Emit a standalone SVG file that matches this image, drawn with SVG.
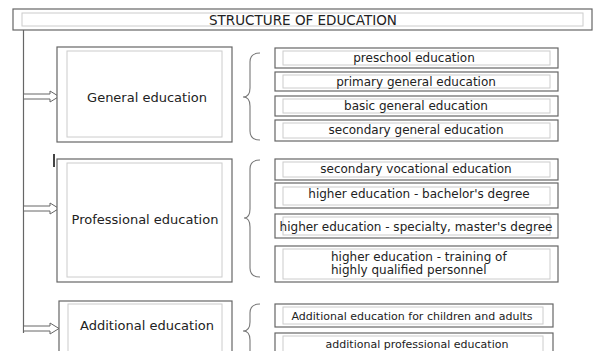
<svg xmlns="http://www.w3.org/2000/svg" width="595" height="351" viewBox="0 0 595 351">
<defs>
<style>
.o{fill:#fff;stroke:#666;stroke-width:1.2}
.i{fill:none;stroke:#ccc;stroke-width:1}
.t{font-family:"DejaVu Sans","Liberation Sans",sans-serif;fill:#222;text-anchor:middle;dominant-baseline:central}
.s{font-size:12px}
.m{font-size:13px}
.a{font-size:11px}
.br{fill:none;stroke:#777;stroke-width:1.1}
.ar{fill:#fff;stroke:#666;stroke-width:1}
.ln{fill:none;stroke:#666;stroke-width:1.2}
</style>
</defs>
<rect width="595" height="351" fill="#fff"/>
<g id="title">
<rect class="o" x="13" y="9" width="579" height="21"/>
<rect class="i" x="22" y="13" width="561" height="13"/>
<text class="t" x="303" y="19.5" style="font-size:13.5px">STRUCTURE OF EDUCATION</text>
</g>
<g id="connectors">
<path class="ln" d="M23.5 30 V333"/>
<path class="ar" d="M23.5 94 H50 V91 L59 96.5 L50 102 V99 H23.5 Z"/>
<path class="ar" d="M23.5 206 H50 V203 L59 208.5 L50 214 V211 H23.5 Z"/>
<path class="ar" d="M23.5 326 H50 V323 L59 328.5 L50 334 V331 H23.5 Z"/>
<path d="M54 154 V167" stroke="#444" stroke-width="2"/>
<path class="br" d="M260 53 Q250 53 250 62 V88 Q250 97 243 97 Q250 97 250 106 V131 Q250 140 260 140"/>
<path class="br" d="M260 160 Q250 160 250 169 V209 Q250 218 244 218 Q250 218 250 227 V268 Q250 277 260 277"/>
<path class="br" d="M260 304 Q250 304 250 313 V322 Q250 331 243 331 Q250 331 250 340 V351"/>
</g>
<g id="general">
<rect class="o" x="57" y="47" width="175" height="95"/>
<rect class="i" x="67" y="51" width="155" height="86"/>
<text class="t m" x="147" y="97">General education</text>
</g>
<g id="professional">
<rect class="o" x="57" y="159" width="175" height="123"/>
<rect class="i" x="67" y="163" width="155" height="114"/>
<text class="t m" x="145" y="219">Professional education</text>
</g>
<g id="additional">
<rect class="o" x="59" y="301" width="173" height="60"/>
<rect class="i" x="68" y="304" width="154" height="60"/>
<text class="t m" x="147" y="325">Additional education</text>
</g>
<g id="preschool">
<rect class="o" x="275" y="48" width="283" height="20"/>
<rect class="i" x="283" y="51" width="267" height="14"/>
<text class="t s" x="414" y="58">preschool education</text>
</g>
<g id="primary">
<rect class="o" x="275" y="72" width="283" height="19"/>
<rect class="i" x="283" y="75" width="267" height="13"/>
<text class="t s" x="416" y="82">primary general education</text>
</g>
<g id="basic">
<rect class="o" x="275" y="96" width="283" height="20"/>
<rect class="i" x="283" y="99" width="267" height="14"/>
<text class="t s" x="416" y="106">basic general education</text>
</g>
<g id="secondary">
<rect class="o" x="275" y="120" width="283" height="21"/>
<rect class="i" x="283" y="123" width="267" height="15"/>
<text class="t s" x="416" y="130">secondary general education</text>
</g>
<g id="vocational">
<rect class="o" x="275" y="159" width="283" height="21"/>
<rect class="i" x="283" y="162" width="267" height="15"/>
<text class="t s" x="416" y="169">secondary vocational education</text>
</g>
<g id="bachelor">
<rect class="o" x="275" y="183" width="283" height="25"/>
<rect class="i" x="283" y="187" width="267" height="18"/>
<text class="t s" x="419" y="194">higher education - bachelor's degree</text>
</g>
<g id="master">
<rect class="o" x="275" y="214" width="283" height="24"/>
<rect class="i" x="283" y="217" width="267" height="18" stroke="#e6e6e6"/>
<text class="t s" x="416" y="227">higher education - specialty, master's degree</text>
</g>
<g id="training">
<rect class="o" x="275" y="246" width="283" height="36"/>
<rect class="i" x="283" y="249" width="267" height="30"/>
<text class="t s" x="331" y="256.5" style="text-anchor:start">higher education - training of</text>
<text class="t s" x="331" y="270" style="text-anchor:start">highly qualified personnel</text>
</g>
<g id="children">
<rect class="o" x="275" y="304" width="278" height="23"/>
<rect class="i" x="283" y="307" width="260" height="17"/>
<text class="t a" x="412" y="316.5">Additional education for children and adults</text>
</g>
<g id="profadd">
<rect class="o" x="275" y="333" width="278" height="30"/>
<rect class="i" x="283" y="336" width="260" height="25"/>
<text class="t a" x="417" y="344.5">additional professional education</text>
</g>
</svg>
